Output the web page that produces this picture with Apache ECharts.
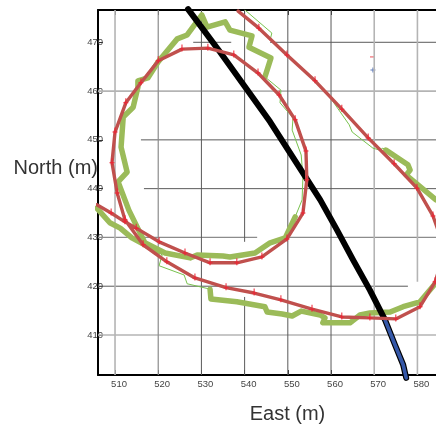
<!DOCTYPE html>
<html><head><meta charset="utf-8">
<style>html,body{margin:0;padding:0;background:#fff}#c{width:436px;height:426px}</style>
<script src="https://cdn.jsdelivr.net/npm/echarts@6/dist/echarts.min.js"></script>
</head><body><div id="c"></div>
<script>
const xMin = 506.06, xMax = 584.3, yMin = 401.8, yMax = 476.62;
const xTicks = [510, 520, 530, 540, 550, 560, 570, 580];
const yTicks = [410, 420, 430, 440, 450, 460, 470];

// survey track (red)
const redPath = [[538.5,476.4],[543.3,472.9],[549.8,467.4],[556.3,462.1],[562.5,456.3],[568.6,450.4],[574.6,445.1],[579.9,440.1],[583.6,434.4],[586.4,427.4],[584.1,420.9],[580.6,415.8],[575,413.3],[569,413.5],[562.5,413.7],[555.6,415.3],[548.4,417.2],[542.2,418.6],[535.7,419.7],[528.5,421.7],[522,425],[516.5,428.5],[512.3,433.6],[510.5,439.1],[509.3,445.3],[510,451.6],[512.5,457.6],[516,461.7],[520,466.2],[525.5,468.6],[531.5,468.8],[537.5,467.4],[543.1,463.7],[548,459.2],[551.7,454.1],[554.2,447.7],[554.4,441.8],[553.5,435],[549.8,429.7],[544,426],[538.2,424.8],[532,424.8],[526.2,426.8],[520.2,429.1],[514.9,431.9],[512.3,433.2],[509.1,435],[505.8,436.7]];
const redUnmarked = [[538.5,476.4],[586.4,427.4],[505.8,436.7]];

// green: thick and thin stretches
const greenThickA = [[584.3,437.7],[577.4,442.8],[578.3,443.8],[577.8,444.9],[572.7,447.9]];
const greenThinA = [[572.7,447.9],[572,448.3],[571.3,447.9],[569.7,448.3],[564.9,451.6],[564.2,453.1],[558.6,460.2],[552.4,465.1],[545.9,470.5],[546.3,471.9],[540.1,476.6]];
const greenThinB = [[544.7,462.9],[548.4,460.2],[548.2,457.6],[551.2,454.5],[551,452],[553.1,446.9],[553.5,442.4],[553.3,437.7],[551.7,434.2]];
const greenThickB = [[551.7,434.2],[549.4,429.9],[545.9,428.9],[542.4,426.8],[536.6,426],[535,426.2],[529,426.4],[527.4,425.8],[521.6,426.8],[516.9,428.9],[513.2,435.6],[510.7,441.4],[512.8,443.4],[511.4,448.5],[511.9,454.7],[514.2,456.7],[515.3,460.8],[515.3,462.1],[517.6,462.7],[520,466],[520.9,467],[524.4,470.7],[526.7,471.5],[530.1,475.6],[531.3,473.1],[535.5,474.2],[536.6,472.5],[541.7,471.3],[541,469],[546.1,466.8],[544.7,462.9]];
const greenThickC = [[505.8,436],[508.8,433],[511.2,431.9],[513.9,429.9],[516.9,428.5],[520,427]];
const greenThinC = [[520,427],[520.9,426.4],[520.2,424.2],[526,422.3],[526.7,420.5],[532,419.4]];
const greenThickD = [[532,419.4],[532.2,417.4],[538.2,416.8],[544.7,415.8],[545.2,414.7],[548.7,414.3],[551,413.9],[553.1,414.9],[557.5,414.1],[558.6,413.5],[558.1,412.5],[564.4,412.5],[566.7,414.1],[569,414.5],[573.7,414.7],[576.7,415.8],[580.6,416.8],[584.3,420.7]];

// vehicle path
const blackPath = [[526.9,476.8],[534.3,468],[545.9,453.7],[557.5,437.7],[561.4,431.5],[565.1,425.4],[569,419.2],[572.5,413.1]];
const bluePath = [[572.5,413.1],[574.8,408],[576.7,403.9],[577.4,401.2]];
const legendRed = [[569.6,467]];
const legendBlue = [[569.7,464.3]];

// grid line stretches (the reference's grid is broken in places)
const gridH = {
  470: [[528.1,536.9],[545.9,xMax]],
  460: [[xMin,xMax]],
  450: [[516,xMax]],
  440: [[516.7,xMax]],
  430: [[xMin,542.9],[549.4,xMax]],
  420: [[xMin,577.8]],
  410: [[xMin,xMax]]
};
const gridV = {
  510: [[yMin,yMax]],
  520: [[yMin,yMax]],
  530: [[yMin,yMax]],
  540: [[yMin,417.8],[429.1,yMax]],
  550: [[yMin,yMax]],
  560: [[yMin,yMax]],
  570: [[yMin,yMax]],
  580: [[yMin,416.2],[420.9,yMax]]
};

const LIGHT = {color:'#b4b4b4', width:1.6}, MID = {color:'#8c8c8c', width:1.2}, DARK = {color:'#5a5a5a', width:1};
const hStyle = {470:DARK,460:LIGHT,450:DARK,440:DARK,430:MID,420:DARK,410:LIGHT};
const vStyle = {510:LIGHT,520:MID,530:DARK,540:DARK,550:DARK,560:DARK,570:LIGHT,580:LIGHT};

function base(data, color, width, extra){
  return Object.assign({type:'line', data, symbol:'none', silent:true, animation:false,
    lineStyle:{color, width, join:'round', cap:'round'}}, extra||{});
}
const series = [];
function gridSeries(map, styles, mk){
  Object.keys(map).forEach(k=>{
    const pts=[];
    map[k].forEach(s=>{ pts.push(mk(+k,s[0]),mk(+k,s[1]),[null,null]); });
    series.push(base(pts, styles[k].color, styles[k].width, {connectNulls:false, lineStyle:{color:styles[k].color,width:styles[k].width,cap:'butt'}}));
  });
}
gridSeries(gridH,hStyle,(k,v)=>[v,k]);
gridSeries(gridV,vStyle,(k,v)=>[k,v]);

const G='#9bbb59', GT=5.5, Gt=1, GL='#78c24e';
series.push(base(greenThinA,GL,Gt),base(greenThinB,GL,Gt),base(greenThinC,GL,Gt));
series.push(base(greenThickA,G,GT),base(greenThickB,G,GT),base(greenThickC,G,GT),base(greenThickD,G,GT));
series.push(base(blackPath.concat(bluePath.slice(1)),'#000',6,{clip:false}));
series.push(base(bluePath,'#3558a8',3.6,{clip:false}));

const plus='path://M-0.5,-5H0.5V-1H2.5V0H0.5V2H-0.5V0H-2.5V-1H-0.5Z';
const noMark=new Set(redUnmarked.map(p=>p.join()));
series.push(base(redPath.map(p=>({value:p, symbol: noMark.has(p.join())?'none':plus})),'#c0504d',3.4,
  {symbol:plus, symbolSize:[5,7], symbolOffset:[0,-1], showSymbol:true, showAllSymbol:true, itemStyle:{color:'#ee2233'}}));

series.push({type:'scatter',data:legendRed,symbol:'rect',symbolSize:[5,1],itemStyle:{color:'#e8202a'},silent:true,animation:false});
series.push({type:'scatter',data:legendBlue,symbol:'path://M-0.5,-2.5H0.5V-0.5H2.5V0.5H0.5V2.5H-0.5V0.5H-2.5V-0.5H-0.5Z',symbolSize:5,itemStyle:{color:'#3558a8'},silent:true,animation:false});

const axisLine={show:true,onZero:false,lineStyle:{color:'#000',width:2}};
const tick=(vals)=>({show:true,inside:true,length:5,customValues:vals,lineStyle:{color:'#333',width:1}});
const chart=echarts.init(document.getElementById('c'),null,{renderer:'canvas'});
chart.setOption({
  animation:false,
  backgroundColor:'#fff',
  grid:{left:98,top:10,width:338,height:365,containLabel:false,outerBoundsMode:'none'},
  xAxis:[
    {type:'value',min:xMin,max:xMax,position:'bottom',axisLine,splitLine:{show:false},
     axisTick:tick(xTicks),
     axisLabel:{show:true,customValues:xTicks,margin:4,fontSize:9.5,color:'#444',fontFamily:'Liberation Sans',padding:[0,0,0,8]},
     name:'East (m)',nameLocation:'middle',nameGap:29,
     nameTextStyle:{fontSize:20,color:'#333',fontFamily:'Liberation Sans',padding:[0,0,0,41]}},
    {type:'value',min:xMin,max:xMax,position:'top',axisLine,splitLine:{show:false},
     axisTick:tick(xTicks),axisLabel:{show:false}}
  ],
  yAxis:[
    {type:'value',min:yMin,max:yMax,position:'left',axisLine,splitLine:{show:false},
     axisTick:tick(yTicks),
     axisLabel:{show:true,customValues:yTicks,margin:-5,fontSize:9.5,color:'#444',fontFamily:'Liberation Sans'},
     name:'North (m)',nameLocation:'middle',nameRotate:0,nameGap:0,nameMoveOverlap:false,
     nameTextStyle:{fontSize:20,color:'#333',fontFamily:'Liberation Sans',verticalAlign:'bottom',padding:[0,0,14,0]}}
  ],
  series
});
</script></body></html>
